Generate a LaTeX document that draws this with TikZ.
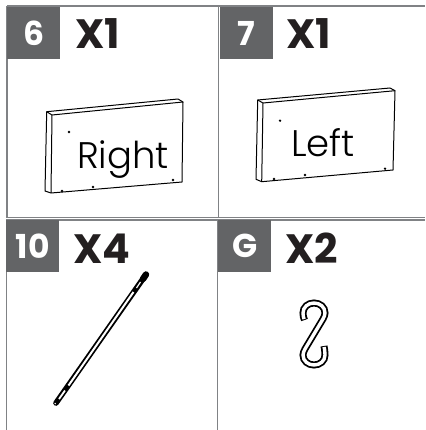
\documentclass[tikz,border=0pt]{standalone}
\usepackage{fontspec}
\setmainfont{Poppins}
\newfontfamily\lightfont{Poppins Light}
\usetikzlibrary{positioning}
\definecolor{badgegrey}{HTML}{636466}
\definecolor{rulegrey}{HTML}{808285}
\definecolor{inkblack}{HTML}{231F20}
\newcommand{\hookpath}{(304.5,320) .. controls (303.5,318) and (303,315.5) .. (303,313)
.. controls (303,307) and (308,303) .. (314,303)
.. controls (320,303) and (325,307) .. (325,313)
.. controls (325,315) and (324,317) .. (323,319)
-- (305,349)
.. controls (304,351) and (303,353) .. (303,355)
.. controls (303,361) and (308,365) .. (314,365)
.. controls (320,365) and (325,361) .. (325,355)
.. controls (325,352) and (324.5,349) .. (324,346)}
\tikzset{
gridline/.style={draw=rulegrey,line width=1.6pt},
thinline/.style={draw=rulegrey,line width=.8pt},
badge/.style={fill=badgegrey,text=white,font=\bfseries\fontsize{33}{33}\selectfont,minimum width=53pt,minimum height=52pt,inner sep=0pt,anchor=north west},
count/.style={text=inkblack,font=\bfseries\fontsize{41}{41}\selectfont,inner sep=0pt,anchor=base west},
paneltext/.style={text=black,font=\lightfont\fontsize{37}{37}\selectfont,inner sep=0pt,anchor=base},
panel/.style={draw=black,line width=1pt,line join=round},
screw/.style={fill=black,draw=none}
}
\begin{document}
\begin{tikzpicture}[x=1pt,y=-1pt]
\useasboundingbox (0,0) rectangle (425,430);
% frame
\draw[gridline](7,6)--(425,6);
\draw[gridline](7,6)--(7,218);
\draw[gridline](218.5,6)--(218.5,218);
\draw[thinline](7,217.5)--(425,217.5);
\draw[gridline](6,220)--(425,220);
\draw[gridline](6.5,220)--(6.5,430);
\draw[gridline](217.5,220)--(217.5,430);
% badges
\node[badge](b6) at (7,7){6};
\node[badge](b7) at (220,7){7};
\node[badge](b10) at (6,220){10};
\node[badge](bG) at (218,220){G};
\node[count](n6) at (75,49){X1};
\node[count](n7) at (286,49){X1};
\node[count](n10) at (73,263){X4};
\node[count](nG) at (285,263){X2};
% right panel
\draw[panel](46.7,111.7)--(178,99)--(183,102)--(182,182)--(51,193)--(45,191)--cycle;
\draw[panel](46.7,111.7)--(52,115)--(183,102);
\draw[panel](52,115)--(51,193);
\foreach \x/\y in {69/132,62/191,93/187,173/180}
\fill[screw](\x,\y) circle (1.3);
\node[paneltext](right) at (123,168){Right};
% left panel
\draw[panel](257.7,100)--(390,88)--(395,90.7)--(393,170)--(261.7,181.7)--(256,179.3)--cycle;
\draw[panel](257.7,100)--(263,103)--(395,90.7);
\draw[panel](263,103)--(261.7,181.7);
\foreach \x/\y in {280/120.7,274/179,305/175,385/168.7}
\fill[screw](\x,\y) circle (1.3);
\node[paneltext](left) at (323,157){Left};
% rod
\draw[black,line width=5.6pt,line cap=round](146,274.5)--(56,403);
\draw[black,line width=6.4pt,line cap=round](146,274.5)--(143,279);
\draw[white,line width=2pt](133.5,292)--(68.5,385.5);
\draw[white,line width=1.2pt](140.5,282)--(136.5,288);
\draw[white,line width=1.8pt](65,390.5)--(59,399);
\fill[white](55.2,403.5) circle (.8);
% hook
\draw[black,line width=7pt] \hookpath;
\draw[white,line width=3.4pt,shorten <=1pt,shorten >=1pt] \hookpath;
\end{tikzpicture}
\end{document}
